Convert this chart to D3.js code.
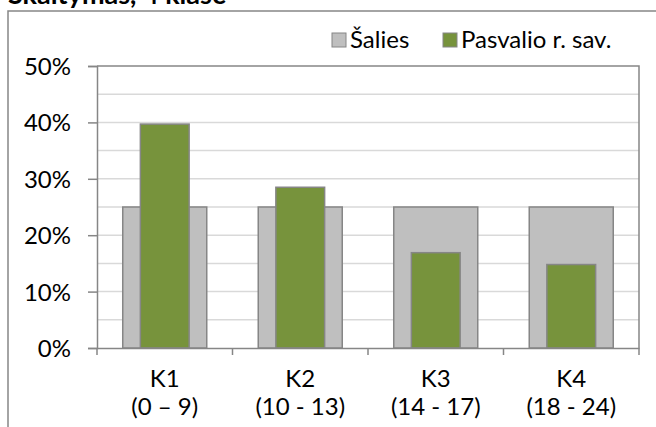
<!DOCTYPE html>
<html><head><meta charset="utf-8">
<script src="https://cdn.jsdelivr.net/npm/d3@7"></script>
<style>body{margin:0;background:#fff}svg{display:block}text{font-family:Lato,"Open Sans",sans-serif;fill:#000}</style>
</head><body><svg id="c" width="656" height="427"></svg>
<script>
const title = "Skaitymas, 4 klasė";
const categories = ["K1", "K2", "K3", "K4"];
const categoryRanges = ["(0 – 9)", "(10 - 13)", "(14 - 17)", "(18 - 24)"];
const seriesNames = ["Šalies", "Pasvalio r. sav."];
const salies = [25, 25, 25, 25];
const pasvalio = [39.7, 28.5, 16.9, 14.8];
const yTicks = [0, 10, 20, 30, 40, 50];
const yGrid = [5, 10, 15, 20, 25, 30, 35, 40, 45];

const svg = d3.select("#c");
const axisCol = "#868686", gridCol = "#d9d9d9";
const greyFill = "#bfbfbf", greenFill = "#77933c";
const fs = 24;

// title (cut off at top, as in the reference)
svg.append("text").attr("x", 8).attr("y", 4).style("font-weight", "bold").style("font-size", "27px").text(title);
// outer frame
svg.append("rect").attr("x", 8).attr("y", 11).attr("width", 700).attr("height", 500)
  .attr("fill", "none").attr("stroke", axisCol).attr("stroke-width", 1.5);

const x = d3.scaleBand().domain(categories).range([97, 639]).padding(0);
const y = d3.scaleLinear().domain([0, 50]).range([348, 66]);

// gridlines
svg.append("g").selectAll("line").data(yGrid).join("line")
  .attr("x1", 97).attr("x2", 639).attr("y1", d => y(d)).attr("y2", d => y(d))
  .attr("stroke", gridCol).attr("stroke-width", 1.5);

// plot border (top & right)
svg.append("path").attr("d", `M${x.range()[0]},${y(50)}H${x.range()[1]}V${y(0)}`)
  .attr("fill", "none").attr("stroke", axisCol).attr("stroke-width", 1.5);

const bw = x.bandwidth();
// grey bars
svg.append("g").selectAll("rect").data(salies).join("rect")
  .attr("x", (d, i) => x(categories[i]) + bw * 0.19)
  .attr("width", bw * 0.62)
  .attr("y", d => y(d)).attr("height", d => y(0) - y(d))
  .attr("fill", greyFill).attr("stroke", axisCol).attr("stroke-width", 1.5);
// green bars
svg.append("g").selectAll("rect").data(pasvalio).join("rect")
  .attr("x", (d, i) => x(categories[i]) + bw * 0.32)
  .attr("width", bw * 0.36)
  .attr("y", d => y(d)).attr("height", d => y(0) - y(d))
  .attr("fill", greenFill).attr("stroke", axisCol).attr("stroke-width", 1.5);

// y axis
const ya = svg.append("g").attr("transform", "translate(97,0)")
  .call(d3.axisLeft(y).tickValues(yTicks).tickFormat(d => d + "%").tickSize(9).tickPadding(17));
ya.select(".domain").attr("stroke", axisCol).attr("stroke-width", 1.5);
ya.selectAll(".tick line").attr("stroke", axisCol).attr("stroke-width", 1.5);
ya.selectAll(".tick text").style("font-size", fs + "px").attr("dy", "0.35em").attr("fill", "#000");

// x axis
const xa = svg.append("g").attr("transform", `translate(0,${y(0)})`)
  .call(d3.axisBottom(x).tickSize(0).tickFormat(""));
xa.select(".domain").attr("stroke", axisCol).attr("stroke-width", 1.5);
const bounds = categories.map(c => x(c)).concat([x.range()[1]]);
xa.selectAll(".sep").data(bounds).join("line").attr("class", "sep")
  .attr("x1", d => d).attr("x2", d => d).attr("y1", 0).attr("y2", 7)
  .attr("stroke", axisCol).attr("stroke-width", 1.5);
const lab = svg.append("g").selectAll("text").data(categories).join("text")
  .attr("text-anchor", "middle").style("font-size", fs + "px")
  .attr("x", d => x(d) + bw / 2);
lab.append("tspan").attr("x", d => x(d) + bw / 2).attr("y", 387).text(d => d);
lab.append("tspan").attr("x", d => x(d) + bw / 2).attr("y", 415).text((d, i) => categoryRanges[i]);

// legend
const leg = svg.append("g");
const legX = [332, 443], fills = [greyFill, greenFill];
seriesNames.forEach((n, i) => {
  leg.append("rect").attr("x", legX[i]).attr("y", 33).attr("width", 14).attr("height", 14)
    .attr("fill", fills[i]).attr("stroke", axisCol).attr("stroke-width", 1);
  leg.append("text").attr("x", legX[i] + 18).attr("y", 48).style("font-size", fs + "px").text(n);
});
</script></body></html>
